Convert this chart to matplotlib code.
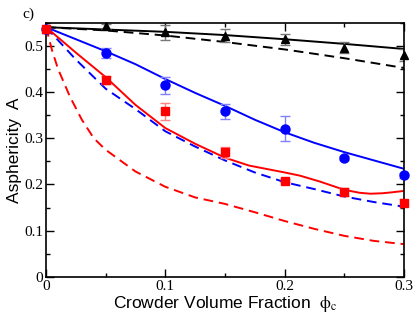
import numpy as np
import matplotlib
matplotlib.use("Agg")
import matplotlib.pyplot as plt
from matplotlib.ticker import MultipleLocator

plt.rcParams["mathtext.fontset"] = "stix"

# simulation points
phi = [0.0, 0.05, 0.1, 0.15, 0.2, 0.25, 0.3]
black_pts = [0.537, 0.542, 0.529, 0.522, 0.514, 0.496, 0.480]
black_err = [0.0, 0.005, 0.016, 0.015, 0.0115, 0.0125, 0.012]
blue_pts = [0.537, 0.484, 0.414, 0.358, 0.320, 0.257, 0.220]
blue_err = [0.0, 0.011, 0.018, 0.017, 0.027, 0.004, 0.005]
red_pts = [0.536, 0.426, 0.358, 0.270, 0.208, 0.184, 0.160]
red_err = [0.0, 0.008, 0.018, 0.012, 0.003, 0.009, 0.009]

# theory curves
phi_line = [0.0, 0.05, 0.1, 0.15, 0.2, 0.25, 0.3]
black_solid = [0.54, 0.535, 0.53, 0.523, 0.514, 0.504, 0.493]
black_dash = [0.54, 0.533, 0.522, 0.508, 0.492, 0.473, 0.452]

phi_b = [0.0, 0.025, 0.05, 0.075, 0.1, 0.125, 0.15, 0.175, 0.2, 0.225, 0.25, 0.275, 0.3]
blue_solid = [0.54, 0.514, 0.488, 0.46, 0.428, 0.398, 0.37, 0.34, 0.313, 0.29, 0.27, 0.252, 0.234]
blue_dash = [0.54, 0.47, 0.407, 0.363, 0.315, 0.282, 0.252, 0.226, 0.205, 0.19, 0.174, 0.162, 0.152]

phi_rs = [0.0, 0.025, 0.05, 0.075, 0.1, 0.125, 0.15, 0.17, 0.188, 0.2, 0.213, 0.23, 0.246,
          0.255, 0.263, 0.272, 0.282, 0.29, 0.3]
red_solid = [0.54, 0.485, 0.432, 0.372, 0.322, 0.288, 0.258, 0.241, 0.232, 0.226, 0.219, 0.206,
             0.192, 0.186, 0.182, 0.180, 0.181, 0.183, 0.186]

phi_rd = [0.0, 0.005, 0.01, 0.02, 0.03, 0.04, 0.05, 0.075, 0.1, 0.125, 0.15, 0.175, 0.2, 0.225, 0.25, 0.275, 0.3]
red_dash = [0.54, 0.49, 0.45, 0.39, 0.34, 0.30, 0.275, 0.228, 0.195, 0.172, 0.158, 0.14, 0.121, 0.104, 0.089, 0.078, 0.071]

xticks = [0, 0.1, 0.2, 0.3]
yticks = [0, 0.1, 0.2, 0.3, 0.4, 0.5]

serif = "Liberation Serif"
sans = "Liberation Sans"

fig = plt.figure(figsize=(4.15, 3.18), dpi=100)
ax = fig.add_axes([0.111, 0.129, 0.862, 0.80])

ax.plot(phi_line, black_solid, color="black", lw=1.4)
ax.plot(phi_line, black_dash, color="black", lw=1.4, ls=(0, (5, 3)))
ax.plot(phi_b, blue_solid, color="blue", lw=1.4)
ax.plot(phi_b, blue_dash, color="blue", lw=1.4, ls=(0, (5, 3)))
ax.plot(phi_rs, red_solid, color="red", lw=1.4)
ax.plot(phi_rd, red_dash, color="red", lw=1.4, ls=(0, (5, 3)))

ax.errorbar(phi, black_pts, yerr=black_err, fmt="none", ecolor="#777777",
            elinewidth=1, capsize=3.5, capthick=1)
ax.errorbar(phi, blue_pts, yerr=blue_err, fmt="none", ecolor="#8080ff",
            elinewidth=1, capsize=3.5, capthick=1)
ax.errorbar(phi, red_pts, yerr=red_err, fmt="none", ecolor="#ff8080",
            elinewidth=1, capsize=3.5, capthick=1)
ax.plot(phi, black_pts, "^", color="black", ms=6, clip_on=False, zorder=5)
ax.plot(phi, blue_pts, "o", color="blue", ms=6.5, clip_on=False, zorder=5)
ax.plot(phi, red_pts, "s", color="red", ms=5.5, clip_on=False, zorder=5)

ax.set_xlim(0, 0.3)
ax.set_ylim(0, 0.55)
ax.set_xticks(xticks)
ax.set_xticklabels([f"{t:g}" for t in xticks], family=serif, fontsize=11)
ax.set_yticks(yticks)
ax.set_yticklabels([f"{t:g}" for t in yticks], family=serif, fontsize=11)
ax.xaxis.set_minor_locator(MultipleLocator(0.05))
ax.yaxis.set_minor_locator(MultipleLocator(0.05))
ax.tick_params(which="both", direction="in", top=True, right=True, width=1)
ax.tick_params(which="major", length=6, pad=2)
ax.tick_params(which="minor", length=3)
for s in ax.spines.values():
    s.set_linewidth(1.2)

ax.set_ylabel("Asphericity  A", family=sans, fontsize=12.5, labelpad=2)
ax.set_xlabel(r"Crowder Volume Fraction  $\mathrm{\phi_c}$", family=sans, fontsize=12.5, labelpad=1)
fig.text(0.055, 0.945, "c)", family=serif, fontsize=11)

fig.savefig("out.png", dpi=100)
